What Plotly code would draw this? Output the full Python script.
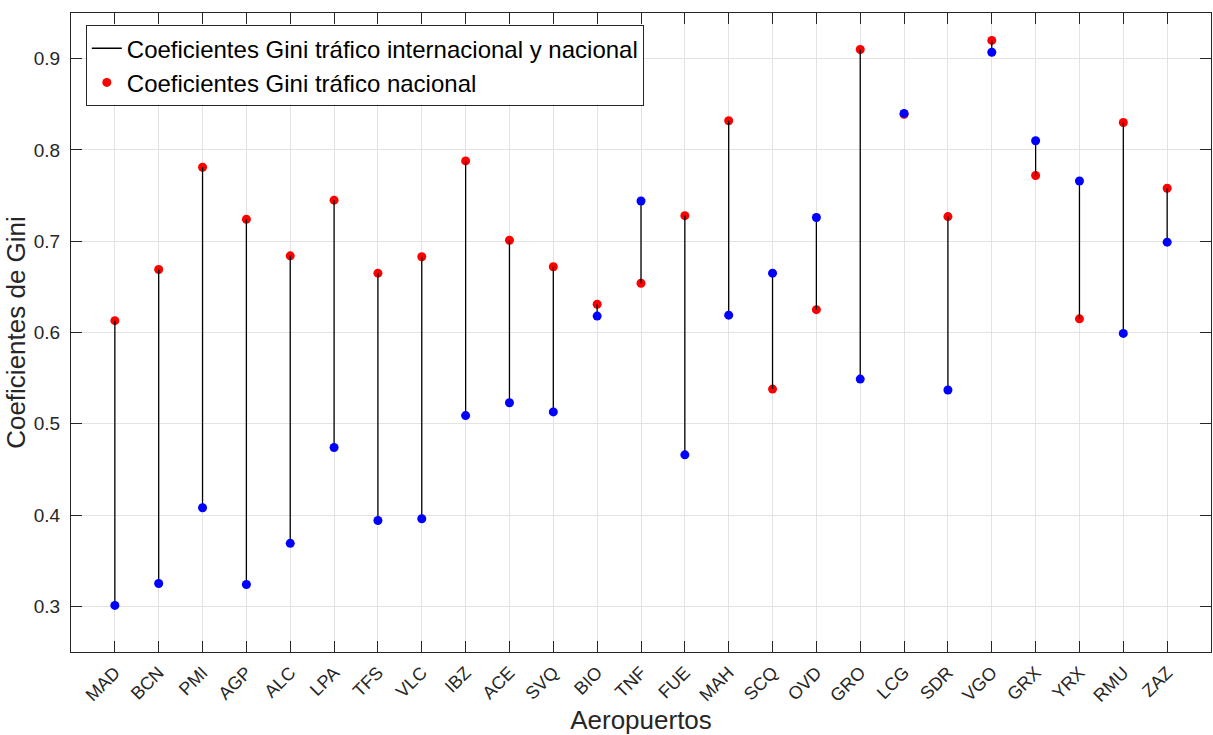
import plotly.graph_objects as go

# Aeropuertos y coeficientes de Gini
aeropuertos = ["MAD", "BCN", "PMI", "AGP", "ALC", "LPA", "TFS", "VLC", "IBZ", "ACE",
               "SVQ", "BIO", "TNF", "FUE", "MAH", "SCQ", "OVD", "GRO", "LCG", "SDR",
               "VGO", "GRX", "YRX", "RMU", "ZAZ"]

# Tráfico internacional y nacional (azul)
gini_total = [0.301, 0.325, 0.408, 0.324, 0.369, 0.474, 0.394, 0.396, 0.509, 0.523,
              0.513, 0.618, 0.744, 0.466, 0.619, 0.665, 0.726, 0.549, 0.840, 0.537,
              0.907, 0.810, 0.766, 0.599, 0.699]

# Tráfico nacional (rojo)
gini_nacional = [0.613, 0.669, 0.781, 0.724, 0.684, 0.745, 0.665, 0.683, 0.788, 0.701,
                 0.672, 0.631, 0.654, 0.728, 0.832, 0.538, 0.625, 0.910, 0.839, 0.727,
                 0.920, 0.772, 0.615, 0.830, 0.758]

posiciones = list(range(1, len(aeropuertos) + 1))

FONT = "Liberation Sans, Arial, Helvetica, sans-serif"
AXIS_COLOR = "#262626"

# Segmentos verticales entre ambos coeficientes
seg_x, seg_y = [], []
for p, a, b in zip(posiciones, gini_total, gini_nacional):
    seg_x += [p, p, None]
    seg_y += [a, b, None]

fig = go.Figure()

fig.add_trace(go.Scatter(
    x=posiciones, y=gini_nacional, mode="markers",
    marker=dict(color="#ff0000", size=9, line=dict(width=0)),
    name="Coeficientes Gini tráfico nacional", legendrank=2,
))

fig.add_trace(go.Scatter(
    x=seg_x, y=seg_y, mode="lines",
    line=dict(color="black", width=1.3),
    name="Coeficientes Gini tráfico internacional y nacional", legendrank=1,
))

fig.add_trace(go.Scatter(
    x=posiciones, y=gini_total, mode="markers",
    marker=dict(color="#0000ff", size=9, line=dict(width=0)),
    showlegend=False,
))

fig.update_layout(
    width=1213, height=735,
    margin=dict(l=71, r=2, t=13, b=83),
    paper_bgcolor="white", plot_bgcolor="white",
    font=dict(family=FONT, color=AXIS_COLOR, size=18),
    showlegend=True,
    legend=dict(
        x=0.013, y=0.981, xanchor="left", yanchor="top",
        bgcolor="white", bordercolor=AXIS_COLOR, borderwidth=1,
        font=dict(family=FONT, size=24, color="black"),
        tracegroupgap=0, itemwidth=30,
    ),
)

fig.update_xaxes(
    range=[0, 26], tickvals=posiciones, ticktext=aeropuertos,
    tickangle=-45, tickfont=dict(size=18, color=AXIS_COLOR),
    ticks="inside", ticklen=11, tickcolor=AXIS_COLOR, ticklabelstandoff=2,
    showline=True, linecolor=AXIS_COLOR, linewidth=1, mirror="ticks",
    showgrid=True, gridcolor="#e3e3e3", gridwidth=1, zeroline=False,
    title=dict(text="Aeropuertos", font=dict(size=26, color=AXIS_COLOR), standoff=3),
)

fig.update_yaxes(
    range=[0.25, 0.95], tickvals=[0.3, 0.4, 0.5, 0.6, 0.7, 0.8, 0.9],
    tickfont=dict(size=19, color=AXIS_COLOR),
    ticks="inside", ticklen=11, tickcolor=AXIS_COLOR, ticklabelstandoff=6,
    showline=True, linecolor=AXIS_COLOR, linewidth=1, mirror="ticks",
    showgrid=True, gridcolor="#e3e3e3", gridwidth=1, zeroline=False,
    title=dict(text="Coeficientes de Gini", font=dict(size=26, color=AXIS_COLOR), standoff=0),
)

fig.write_html("out.html")
